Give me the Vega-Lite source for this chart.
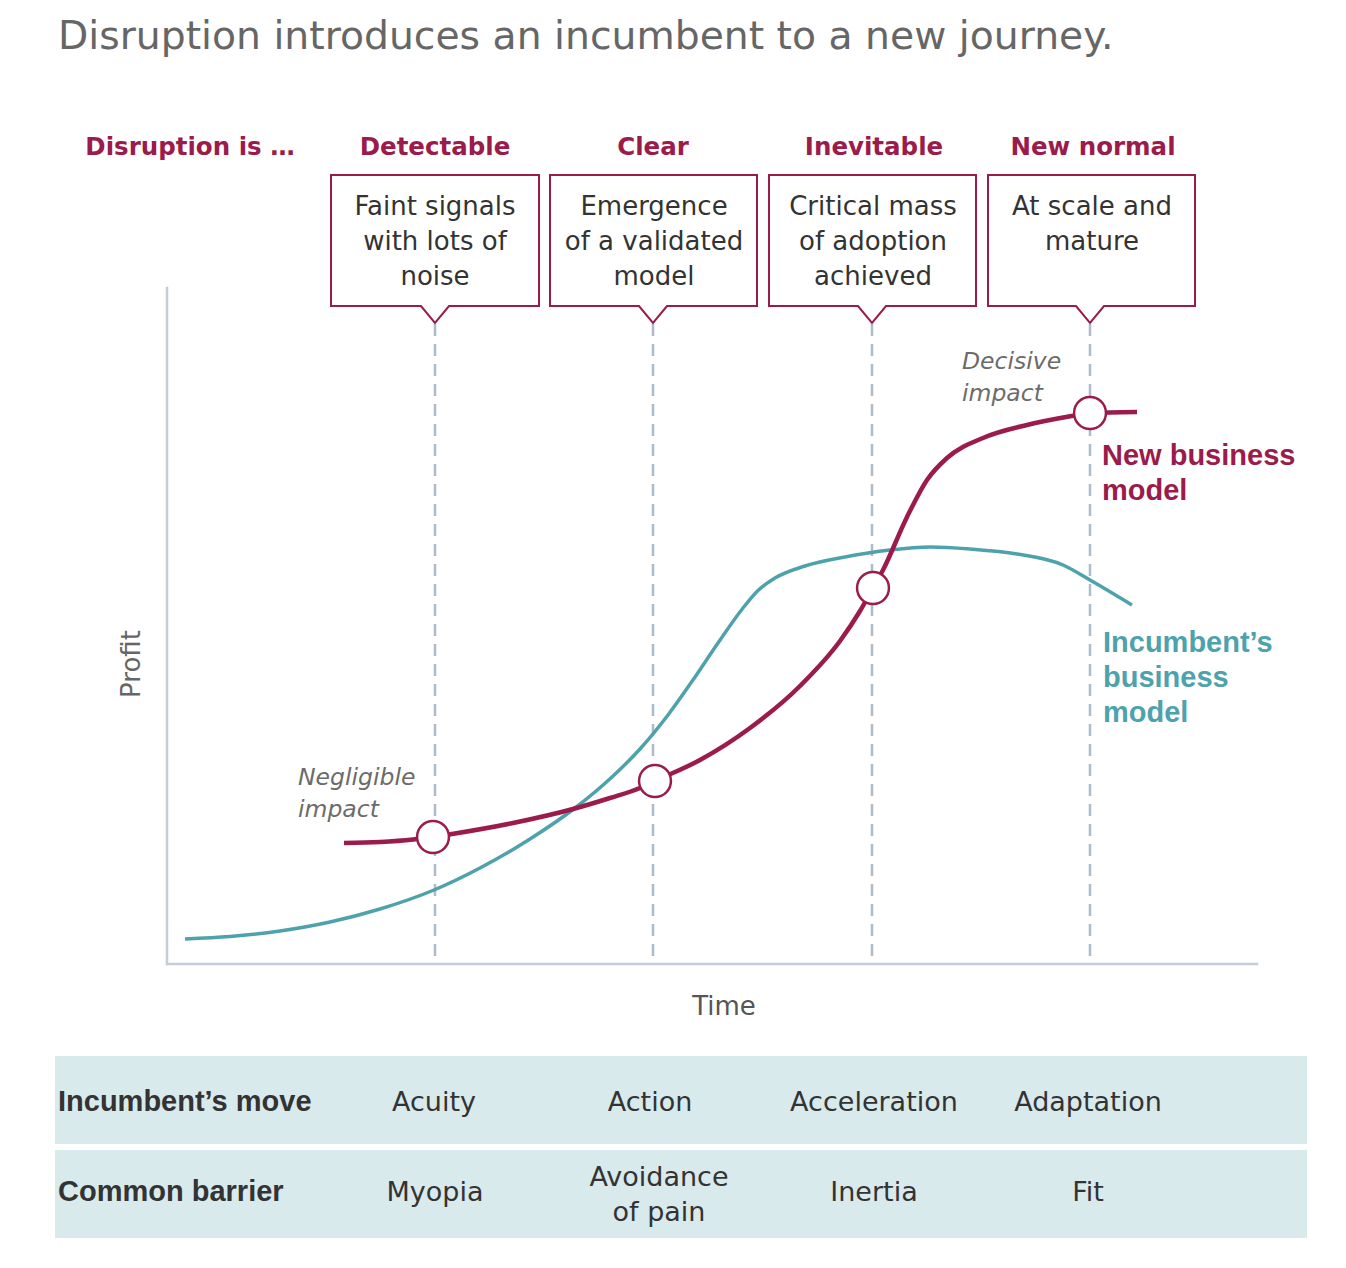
{
  "$schema": "https://vega.github.io/schema/vega-lite/v6.json",
  "width": 1346,
  "height": 1268,
  "autosize": {"type": "fit", "contains": "padding"},
  "padding": 0,
  "background": "white",
  "config": {"view": {"stroke": null}},
  "datasets": {
    "tableRows": [
      {"t": -11.2, "t2": 114.0, "p": -9.2, "p2": -18.0},
      {"t": -11.2, "t2": 114.0, "p": -18.6, "p2": -27.4}
    ],
    "axes": [
      {"t": 0, "p": 0, "t2": 0, "p2": 67.6},
      {"t": 0, "p": 0, "t2": 109, "p2": 0}
    ],
    "guides": [
      {"t": 26.8, "p": 64.0, "p2": 0},
      {"t": 48.6, "p": 64.0, "p2": 0},
      {"t": 70.5, "p": 64.0, "p2": 0},
      {"t": 92.3, "p": 64.0, "p2": 0}
    ],
    "curves": [
      {"series": "Incumbent", "t": 1.8, "p": 2.5},
      {"series": "Incumbent", "t": 6.3, "p": 2.75},
      {"series": "Incumbent", "t": 11.3, "p": 3.3},
      {"series": "Incumbent", "t": 16.3, "p": 4.2},
      {"series": "Incumbent", "t": 21.3, "p": 5.5},
      {"series": "Incumbent", "t": 26.7, "p": 7.4},
      {"series": "Incumbent", "t": 31.3, "p": 9.6},
      {"series": "Incumbent", "t": 36.3, "p": 12.5},
      {"series": "Incumbent", "t": 40.8, "p": 15.6},
      {"series": "Incumbent", "t": 44.5, "p": 18.7},
      {"series": "Incumbent", "t": 47.3, "p": 21.5},
      {"series": "Incumbent", "t": 50.1, "p": 24.9},
      {"series": "Incumbent", "t": 52.6, "p": 28.4},
      {"series": "Incumbent", "t": 55.1, "p": 32.1},
      {"series": "Incumbent", "t": 57.6, "p": 35.6},
      {"series": "Incumbent", "t": 59.1, "p": 37.35},
      {"series": "Incumbent", "t": 60.8, "p": 38.6},
      {"series": "Incumbent", "t": 63.8, "p": 39.8},
      {"series": "Incumbent", "t": 67.8, "p": 40.7},
      {"series": "Incumbent", "t": 72.3, "p": 41.4},
      {"series": "Incumbent", "t": 76.3, "p": 41.7},
      {"series": "Incumbent", "t": 80.3, "p": 41.5},
      {"series": "Incumbent", "t": 85.0, "p": 41.0},
      {"series": "Incumbent", "t": 89.6, "p": 39.9},
      {"series": "Incumbent", "t": 92.3, "p": 38.4},
      {"series": "Incumbent", "t": 96.5, "p": 35.9},
      {"series": "New", "t": 17.7, "p": 12.1},
      {"series": "New", "t": 21.3, "p": 12.2},
      {"series": "New", "t": 24.6, "p": 12.45},
      {"series": "New", "t": 26.6, "p": 12.7},
      {"series": "New", "t": 28.5, "p": 13.0},
      {"series": "New", "t": 34.6, "p": 14.1},
      {"series": "New", "t": 40.6, "p": 15.5},
      {"series": "New", "t": 44.3, "p": 16.6},
      {"series": "New", "t": 47.3, "p": 17.6},
      {"series": "New", "t": 48.8, "p": 18.3},
      {"series": "New", "t": 53.3, "p": 20.4},
      {"series": "New", "t": 58.3, "p": 23.6},
      {"series": "New", "t": 63.3, "p": 27.8},
      {"series": "New", "t": 67.3, "p": 32.3},
      {"series": "New", "t": 69.3, "p": 35.3},
      {"series": "New", "t": 70.6, "p": 37.6},
      {"series": "New", "t": 71.6, "p": 39.4},
      {"series": "New", "t": 74.0, "p": 44.7},
      {"series": "New", "t": 76.0, "p": 48.4},
      {"series": "New", "t": 78.0, "p": 50.6},
      {"series": "New", "t": 81.6, "p": 52.6},
      {"series": "New", "t": 86.0, "p": 53.9},
      {"series": "New", "t": 90.5, "p": 54.8},
      {"series": "New", "t": 92.3, "p": 55.1},
      {"series": "New", "t": 97.0, "p": 55.2}
    ],
    "markers": [
      {"t": 26.6, "p": 12.7},
      {"t": 48.8, "p": 18.3},
      {"t": 70.6, "p": 37.6},
      {"t": 92.3, "p": 55.1}
    ],
    "boxes": [
      {"box": 1, "o": 1, "t": 16.4, "p": 78.9},
      {"box": 1, "o": 2, "t": 37.2, "p": 78.9},
      {"box": 1, "o": 3, "t": 37.2, "p": 65.8},
      {"box": 1, "o": 4, "t": 28.2, "p": 65.8},
      {"box": 1, "o": 5, "t": 26.8, "p": 64.1},
      {"box": 1, "o": 6, "t": 25.4, "p": 65.8},
      {"box": 1, "o": 7, "t": 16.4, "p": 65.8},
      {"box": 1, "o": 8, "t": 16.4, "p": 78.9},
      {"box": 2, "o": 1, "t": 38.3, "p": 78.9},
      {"box": 2, "o": 2, "t": 59.0, "p": 78.9},
      {"box": 2, "o": 3, "t": 59.0, "p": 65.8},
      {"box": 2, "o": 4, "t": 50.0, "p": 65.8},
      {"box": 2, "o": 5, "t": 48.6, "p": 64.1},
      {"box": 2, "o": 6, "t": 47.2, "p": 65.8},
      {"box": 2, "o": 7, "t": 38.3, "p": 65.8},
      {"box": 2, "o": 8, "t": 38.3, "p": 78.9},
      {"box": 3, "o": 1, "t": 60.2, "p": 78.9},
      {"box": 3, "o": 2, "t": 80.9, "p": 78.9},
      {"box": 3, "o": 3, "t": 80.9, "p": 65.8},
      {"box": 3, "o": 4, "t": 71.9, "p": 65.8},
      {"box": 3, "o": 5, "t": 70.5, "p": 64.1},
      {"box": 3, "o": 6, "t": 69.1, "p": 65.8},
      {"box": 3, "o": 7, "t": 60.2, "p": 65.8},
      {"box": 3, "o": 8, "t": 60.2, "p": 78.9},
      {"box": 4, "o": 1, "t": 82.1, "p": 78.9},
      {"box": 4, "o": 2, "t": 102.8, "p": 78.9},
      {"box": 4, "o": 3, "t": 102.8, "p": 65.8},
      {"box": 4, "o": 4, "t": 93.7, "p": 65.8},
      {"box": 4, "o": 5, "t": 92.3, "p": 64.1},
      {"box": 4, "o": 6, "t": 90.9, "p": 65.8},
      {"box": 4, "o": 7, "t": 82.1, "p": 65.8},
      {"box": 4, "o": 8, "t": 82.1, "p": 78.9}
    ],
    "title": [
      {"t": -10.9, "p": 91.5, "text": "Disruption introduces an incumbent to a new journey."}
    ],
    "headers": [
      {"t": 2.3, "p": 80.9, "text": "Disruption is …"},
      {"t": 26.8, "p": 80.9, "text": "Detectable"},
      {"t": 48.6, "p": 80.9, "text": "Clear"},
      {"t": 70.7, "p": 80.9, "text": "Inevitable"},
      {"t": 92.6, "p": 80.9, "text": "New normal"}
    ],
    "boxText": [
      {"t": 26.8, "p": 74.9, "text": "Faint signals\nwith lots of\nnoise"},
      {"t": 48.7, "p": 74.9, "text": "Emergence\nof a validated\nmodel"},
      {"t": 70.6, "p": 74.9, "text": "Critical mass\nof adoption\nachieved"},
      {"t": 92.5, "p": 74.9, "text": "At scale and\nmature"}
    ],
    "impacts": [
      {"t": 13.1, "p": 17.9, "text": "Negligible\nimpact"},
      {"t": 79.5, "p": 59.5, "text": "Decisive\nimpact"}
    ],
    "newLabel": [
      {"t": 93.5, "p": 49.9, "text": "New business\nmodel"}
    ],
    "incLabel": [
      {"t": 93.6, "p": 31.2, "text": "Incumbent’s\nbusiness\nmodel"}
    ],
    "yTitle": [
      {"t": -2.7, "p": 30.0, "text": "Profit"}
    ],
    "xTitle": [
      {"t": 55.7, "p": -5.1, "text": "Time"}
    ],
    "tableHeads": [
      {"t": -10.9, "p": -14.7, "text": "Incumbent’s move"},
      {"t": -10.9, "p": -23.7, "text": "Common barrier"}
    ],
    "tableCells": [
      {"t": 26.7, "p": -14.7, "text": "Acuity"},
      {"t": 48.3, "p": -14.7, "text": "Action"},
      {"t": 70.7, "p": -14.7, "text": "Acceleration"},
      {"t": 92.1, "p": -14.7, "text": "Adaptation"},
      {"t": 26.8, "p": -23.7, "text": "Myopia"},
      {"t": 49.2, "p": -22.2, "text": "Avoidance\nof pain"},
      {"t": 70.7, "p": -23.7, "text": "Inertia"},
      {"t": 92.1, "p": -23.7, "text": "Fit"}
    ]
  },
  "encoding": {
    "x": {"field": "t", "type": "quantitative", "scale": {"domain": [-16.7, 117.9], "nice": false, "zero": false}, "axis": null},
    "y": {"field": "p", "type": "quantitative", "scale": {"domain": [-30.4, 96.4], "nice": false, "zero": false}, "axis": null}
  },
  "layer": [
    {
      "data": {"name": "tableRows"},
      "mark": {"type": "rect", "fill": "#d9eaed"},
      "encoding": {"x2": {"field": "t2"}, "y2": {"field": "p2"}}
    },
    {
      "data": {"name": "axes"},
      "mark": {"type": "rule", "color": "#c3ced8", "strokeWidth": 2.5, "strokeCap": "square"},
      "encoding": {"x2": {"field": "t2"}, "y2": {"field": "p2"}}
    },
    {
      "data": {"name": "guides"},
      "mark": {"type": "rule", "color": "#abbdca", "strokeWidth": 2.5, "strokeDash": [12, 8]},
      "encoding": {"y2": {"field": "p2"}}
    },
    {
      "data": {"name": "curves"},
      "transform": [{"filter": "datum.series === 'Incumbent'"}],
      "mark": {"type": "line", "color": "#4ea2ac", "strokeWidth": 3.5, "interpolate": "monotone"},
      "encoding": {}
    },
    {
      "data": {"name": "curves"},
      "transform": [{"filter": "datum.series === 'New'"}],
      "mark": {"type": "line", "color": "#9b1b4b", "strokeWidth": 4.5, "interpolate": "monotone"},
      "encoding": {}
    },
    {
      "data": {"name": "markers"},
      "mark": {"type": "point", "shape": "circle", "filled": true, "fill": "white", "stroke": "#9b1b4b", "strokeWidth": 2.5, "size": 1018, "opacity": 1}
    },
    {
      "data": {"name": "boxes"},
      "mark": {"type": "line", "color": "#9b1b4b", "strokeWidth": 2, "strokeJoin": "miter", "strokeCap": "square"},
      "encoding": {"order": {"field": "o", "type": "quantitative"}, "detail": {"field": "box", "type": "nominal"}}
    },
    {
      "data": {"name": "title"},
      "mark": {"type": "text", "align": "left", "baseline": "alphabetic", "font": "DejaVu Sans", "fontSize": 39.3, "color": "#666666"},
      "encoding": {"text": {"field": "text"}}
    },
    {
      "data": {"name": "headers"},
      "mark": {"type": "text", "align": "center", "baseline": "alphabetic", "font": "DejaVu Sans", "fontWeight": "bold", "fontSize": 24.5, "color": "#9b1b4b"},
      "encoding": {"text": {"field": "text"}}
    },
    {
      "data": {"name": "boxText"},
      "mark": {"type": "text", "align": "center", "baseline": "alphabetic", "font": "DejaVu Sans", "fontSize": 26, "lineHeight": 35, "lineBreak": "\n", "color": "#333333"},
      "encoding": {"text": {"field": "text"}}
    },
    {
      "data": {"name": "impacts"},
      "mark": {"type": "text", "align": "left", "baseline": "alphabetic", "font": "DejaVu Sans", "fontStyle": "italic", "fontSize": 23.5, "lineHeight": 32, "lineBreak": "\n", "color": "#6b6b6b"},
      "encoding": {"text": {"field": "text"}}
    },
    {
      "data": {"name": "newLabel"},
      "mark": {"type": "text", "align": "left", "baseline": "alphabetic", "font": "Liberation Sans", "fontWeight": "bold", "fontSize": 29, "lineHeight": 35, "lineBreak": "\n", "color": "#9b1b4b"},
      "encoding": {"text": {"field": "text"}}
    },
    {
      "data": {"name": "incLabel"},
      "mark": {"type": "text", "align": "left", "baseline": "alphabetic", "font": "Liberation Sans", "fontWeight": "bold", "fontSize": 29, "lineHeight": 35, "lineBreak": "\n", "color": "#4ea2ac"},
      "encoding": {"text": {"field": "text"}}
    },
    {
      "data": {"name": "yTitle"},
      "mark": {"type": "text", "align": "center", "baseline": "alphabetic", "angle": 270, "font": "DejaVu Sans", "fontSize": 26, "color": "#666666"},
      "encoding": {"text": {"field": "text"}}
    },
    {
      "data": {"name": "xTitle"},
      "mark": {"type": "text", "align": "center", "baseline": "alphabetic", "font": "DejaVu Sans", "fontSize": 26, "color": "#555555"},
      "encoding": {"text": {"field": "text"}}
    },
    {
      "data": {"name": "tableHeads"},
      "mark": {"type": "text", "align": "left", "baseline": "alphabetic", "font": "Liberation Sans", "fontWeight": "bold", "fontSize": 29, "color": "#333333"},
      "encoding": {"text": {"field": "text"}}
    },
    {
      "data": {"name": "tableCells"},
      "mark": {"type": "text", "align": "center", "baseline": "alphabetic", "font": "DejaVu Sans", "fontSize": 27, "lineHeight": 35, "lineBreak": "\n", "color": "#333333"},
      "encoding": {"text": {"field": "text"}}
    }
  ]
}
